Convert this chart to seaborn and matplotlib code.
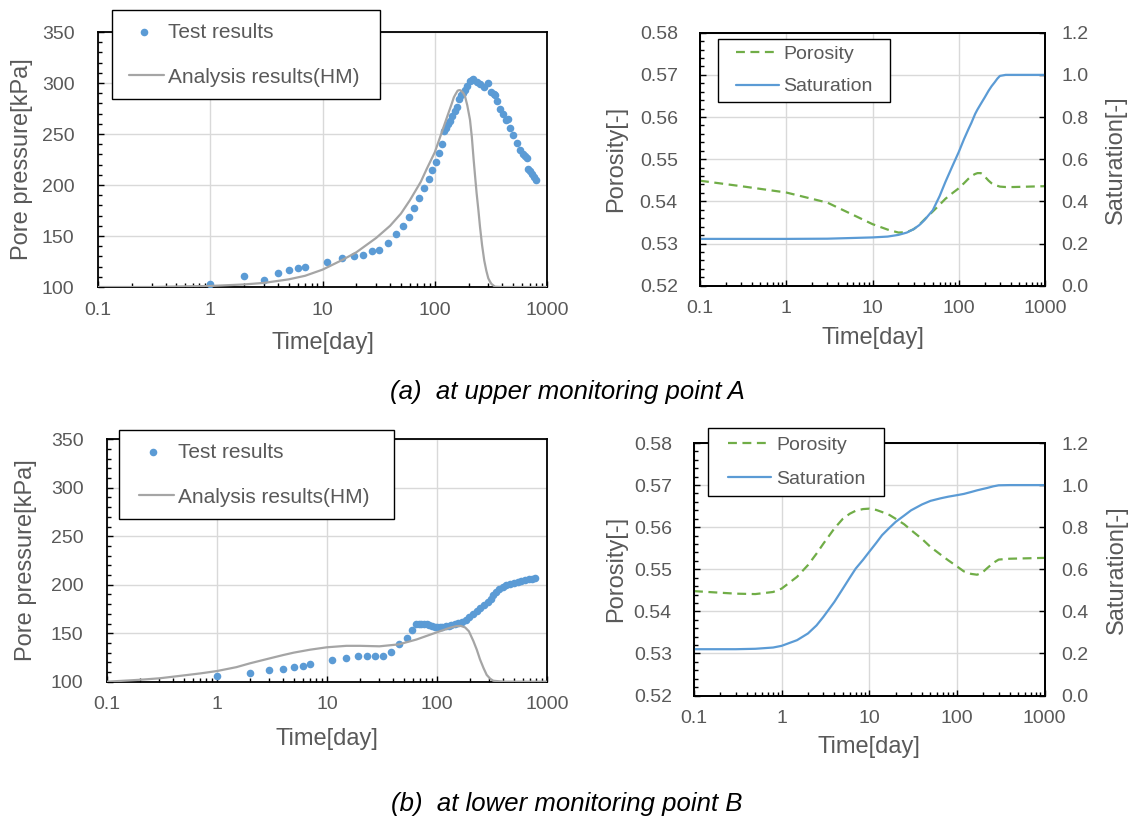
"""Pore pressure / porosity / saturation at monitoring points A and B"""
import matplotlib
matplotlib.use("Agg")
import matplotlib.pyplot as plt
import matplotlib.ticker as mticker
from matplotlib.legend_handler import HandlerLine2D
from matplotlib.lines import Line2D
import seaborn as sns

# ---- (a) upper monitoring point A ----
a_test_t = [1, 2, 3, 4, 5, 6, 7, 11, 15, 19, 23, 27.5, 32, 38.5, 45, 52.5, 59.5,
            66, 73, 81, 88, 94.5, 102, 109, 117, 122, 126, 132, 137, 143, 151, 157,
            166, 172, 178, 186, 195, 206, 214, 221, 236, 253, 277, 300, 320, 335,
            345, 361, 381, 402, 431, 452, 470, 501, 537, 574, 610, 640, 659, 682,
            710, 731, 760, 793]
a_test_p = [103, 110.5, 107, 113.5, 116.5, 118.5, 120, 125, 128.5, 130.5, 131.5, 135,
            136.5, 143, 152, 160, 169, 177, 187, 197, 206, 215, 223, 231, 240, 253,
            256, 260, 263, 268, 273, 276, 284, 288, 290, 293, 297, 302, 303, 303.5,
            301, 299, 296, 300, 291, 289, 288, 282, 275, 270, 264, 265, 256, 249,
            241, 234, 230, 228, 226, 216, 214, 211, 208, 205]
a_hm_t = [0.1, 0.3, 0.5, 1, 2, 3, 5, 7, 10, 15, 20, 30, 40, 50, 60, 75, 85, 100, 110,
          120, 130, 142, 148, 155, 160, 165, 170, 175, 180, 186, 195, 206, 214, 222,
          229, 236, 245, 253, 264, 276, 288, 300, 310, 320, 344, 400, 1000]
a_hm_p = [100, 100, 100.5, 101, 102.5, 104, 107.5, 111, 117, 126.5, 134, 148, 160, 172,
          185, 203, 216, 232, 245, 257, 268, 280, 286, 290, 292.5, 293, 292.8, 291.5,
          290, 287, 278, 264, 247, 225, 208, 192, 175, 159, 141, 126, 116, 108.5,
          105.5, 103, 100.3, 100, 100]

a_t = [0.1, 0.3, 1, 3, 10, 15, 20, 25, 30, 35, 40, 50, 60, 70, 85, 100, 115, 130,
       140, 155, 165, 180, 190, 200, 222, 240, 260, 280, 300, 350, 430, 1000]
a_porosity = [0.5449, 0.5436, 0.5421, 0.5397, 0.5346, 0.5333, 0.5326, 0.5327, 0.5334,
              0.5345, 0.5357, 0.5376, 0.5392, 0.5406, 0.5420, 0.5431, 0.5443, 0.5454,
              0.5460, 0.5465, 0.5467, 0.5467, 0.5464, 0.5459, 0.5449, 0.5443, 0.5439,
              0.5437, 0.5435, 0.5434, 0.5434, 0.5436]
a_saturation = [0.222, 0.222, 0.222, 0.223, 0.229, 0.233, 0.241, 0.252, 0.268, 0.288,
                0.311, 0.358, 0.425, 0.492, 0.570, 0.634, 0.695, 0.744, 0.772, 0.815,
                0.836, 0.862, 0.878, 0.893, 0.925, 0.946, 0.964, 0.982, 0.995, 1.0,
                1.0, 1.0]

# ---- (b) lower monitoring point B ----
b_test_t = [1, 2, 3, 4, 5, 6, 7, 11, 15, 19, 23, 27.5, 32, 38.5, 45, 53, 59, 65, 68,
            72, 76, 81, 85, 90, 95, 100, 106, 112, 120, 128, 134, 145, 156, 168, 182,
            197, 213, 230, 248, 268, 290, 308, 326, 345, 366, 395, 427, 460, 498, 540,
            582, 630, 679, 725, 774]
b_test_p = [105.5, 109, 111.7, 113.4, 114.8, 116.6, 118.6, 122, 124, 126, 126, 127, 127,
            130.5, 138.5, 145, 153, 159, 160, 160, 159.5, 159, 158, 157.2, 156.5, 156.2,
            156.2, 156.6, 157, 157.5, 158, 159, 160.3, 162, 164, 167, 170, 173, 176, 179,
            182, 185.5, 189, 192.5, 196, 198, 199.5, 201, 202, 203, 204, 204.8, 205.5,
            206.3, 207.3]
b_hm_t = [0.1, 0.2, 0.3, 0.5, 0.7, 1, 1.5, 2, 3, 4, 5, 7, 10, 15, 20, 30, 45, 65, 100,
          130, 150, 165, 180, 195, 214, 230, 246, 265, 283, 305, 325, 400, 1000]
b_hm_p = [100, 102, 103.5, 106.5, 108.5, 111, 115, 119, 124, 127.5, 130, 133, 135.5,
          137, 137, 136.5, 138.5, 143.5, 151, 155.5, 157.3, 157.5, 156, 152, 142, 133,
          123, 114, 107, 103, 101, 100, 100]

b_t = [0.1, 0.3, 0.5, 0.8, 1, 1.5, 2, 2.5, 3, 4, 5, 6, 7, 8.5, 10, 12, 14, 17, 20, 25,
       30, 40, 50, 65, 80, 100, 120, 145, 170, 195, 220, 260, 300, 400, 1000]
b_porosity = [0.5448, 0.5442, 0.5441, 0.5446, 0.5454, 0.5482, 0.5510, 0.5537, 0.5561,
              0.5597, 0.5620, 0.5632, 0.5639, 0.5643, 0.5644, 0.5641, 0.5636, 0.5629,
              0.5620, 0.5607, 0.5593, 0.5572, 0.5553, 0.5535, 0.5521, 0.5507, 0.5495,
              0.5489, 0.5487, 0.5492, 0.5502, 0.5515, 0.5523, 0.5525, 0.5527]
b_saturation = [0.220, 0.220, 0.222, 0.228, 0.236, 0.263, 0.295, 0.333, 0.374, 0.445,
                0.508, 0.560, 0.603, 0.645, 0.683, 0.725, 0.762, 0.797, 0.825, 0.855,
                0.880, 0.908, 0.925, 0.937, 0.945, 0.952, 0.958, 0.967, 0.975, 0.981,
                0.986, 0.994, 0.999, 1.0, 1.0]

time_ticks = [0.1, 1, 10, 100, 1000]
time_labels = ["0.1", "1", "10", "100", "1000"]
p_ticks = [100, 150, 200, 250, 300, 350]
por_ticks = [0.52, 0.53, 0.54, 0.55, 0.56, 0.57, 0.58]
sat_ticks = [0.0, 0.2, 0.4, 0.6, 0.8, 1.0, 1.2]

TXT = "#595959"
BLUE = "#5B9BD5"
GREEN = "#70AD47"
GRAY = "#A5A5A5"
GRID = "#D9D9D9"

sns.set_theme(style="white")
plt.rcParams["font.family"] = ["Liberation Sans", "DejaVu Sans"]

W, H = 1133, 816
fig = plt.figure(figsize=(W / 100, H / 100), dpi=100)


class InsetLine(HandlerLine2D):
    """Legend line that starts a bit inside its handle box."""

    def __init__(self, inset, **kw):
        super().__init__(**kw)
        self.inset = inset

    def get_xdata(self, legend, xdescent, ydescent, width, height, fontsize):
        xdata = [-xdescent + self.inset * fontsize, -xdescent + width]
        return xdata, [sum(xdata) / 2]


def px_axes(x0, y0, x1, y1):
    return fig.add_axes([x0 / W, 1 - y1 / H, (x1 - x0) / W, (y1 - y0) / H])


def style_axes(ax, yticks, yminor, yfmt, ypad, ylabel, ylab_x, xlab_y):
    ax.set_xscale("log")
    ax.set_xlim(0.1, 1000)
    ax.xaxis.set_major_locator(mticker.FixedLocator(time_ticks))
    ax.xaxis.set_major_formatter(mticker.FixedFormatter(time_labels))
    ax.xaxis.set_minor_locator(mticker.LogLocator(base=10, subs=range(2, 10)))
    ax.xaxis.set_minor_formatter(mticker.NullFormatter())
    ax.set_ylim(yticks[0], yticks[-1])
    ax.set_yticks(yticks)
    ax.set_yticklabels([yfmt.format(v) for v in yticks])
    ax.yaxis.set_minor_locator(mticker.MultipleLocator(yminor))
    ax.grid(True, which="major", color=GRID, linewidth=1)
    ax.set_axisbelow(True)
    for s in ax.spines.values():
        s.set_color("black")
        s.set_linewidth(1.3)
    ax.tick_params(which="both", direction="in", color="black", width=1,
                   labelcolor=TXT, labelsize=14, left=True, bottom=True,
                   top=False, right=False)
    ax.tick_params(which="major", length=4.5)
    ax.tick_params(which="minor", length=3)
    ax.tick_params(axis="y", pad=ypad)
    ax.tick_params(axis="x", pad=10.5)
    ax.set_xlabel("Time[day]", fontsize=17, color=TXT)
    ax.set_ylabel(ylabel, fontsize=17, color=TXT)
    ax.xaxis.set_label_coords(0.5, xlab_y)
    ax.yaxis.set_label_coords(ylab_x, 0.5)


def add_legend(ax, handles, labels, box, fs, spacing, hl, pad, inset, textpad):
    x0, y0, bw = box
    leg = ax.legend(handles, labels, loc="upper left", mode="expand",
                    bbox_to_anchor=(x0 / W, 1 - y0 / H - 0.01, bw / W, 0.01),
                    bbox_transform=fig.transFigure, borderaxespad=0, frameon=True,
                    fancybox=False, framealpha=1, edgecolor="black", fontsize=fs,
                    labelspacing=spacing, handlelength=hl, handletextpad=textpad,
                    borderpad=pad, labelcolor=TXT, scatterpoints=1,
                    handler_map={Line2D: InsetLine(inset)})
    leg.get_frame().set_linewidth(1.0)
    leg.set_zorder(10)


def pressure_panel(box, test_t, test_p, hm_t, hm_p, leg_box, inset, hl, ylab_x, xlab_y):
    ax = px_axes(*box)
    sns.scatterplot(x=test_t, y=test_p, ax=ax, color=BLUE, s=30, linewidth=0,
                    label="Test results", zorder=3)
    sns.lineplot(x=hm_t, y=hm_p, ax=ax, color=GRAY, linewidth=1.6,
                 label="Analysis results(HM)", zorder=4)
    style_axes(ax, p_ticks, 10, "{:.0f}", 17, "Pore pressure[kPa]", ylab_x, xlab_y)
    h, l = ax.get_legend_handles_labels()
    add_legend(ax, h, l, leg_box, 15, 1.25, hl, 0.6, inset, 0.2)
    return ax


def state_panel(box, t, por, sat, leg_box, spacing, pad, textpad, ylab_x, sat_lab_x,
                xlab_y):
    ax = px_axes(*box)
    sns.lineplot(x=t, y=por, ax=ax, color=GREEN, linewidth=1.6,
                 linestyle=(0, (4, 2.5)), label="Porosity")
    style_axes(ax, por_ticks, 0.002, "{:.2f}", 16, "Porosity[-]", ylab_x, xlab_y)
    ax2 = ax.twinx()
    sns.lineplot(x=t, y=sat, ax=ax2, color=BLUE, linewidth=1.6, label="Saturation")
    ax2.set_ylim(0, 1.2)
    ax2.set_yticks(sat_ticks)
    ax2.set_yticklabels(["{:.1f}".format(v) for v in sat_ticks])
    ax2.yaxis.set_minor_locator(mticker.NullLocator())
    ax2.tick_params(axis="y", direction="in", length=4.5, width=1, color="black",
                    labelcolor=TXT, labelsize=14, pad=12, right=True, left=False)
    ax2.set_ylabel("Saturation[-]", fontsize=17, color=TXT)
    ax2.yaxis.set_label_coords(sat_lab_x, 0.5)
    for s in ax2.spines.values():
        s.set_color("black")
        s.set_linewidth(1.3)
    if ax.get_legend() is not None:
        ax.get_legend().remove()
    h1, l1 = ax.get_legend_handles_labels()
    h2, l2 = ax2.get_legend_handles_labels()
    add_legend(ax2, h1 + h2, l1 + l2, leg_box, 14, spacing, 2.85, pad, 0.63, textpad)
    return ax, ax2


pressure_panel((98, 32, 547, 287), a_test_t, a_test_p, a_hm_t, a_hm_p,
               (111.6, 10, 268.4), 0.23, 1.91, -0.145, -0.178)
state_panel((700, 32.7, 1045, 285.7), a_t, a_porosity, a_saturation,
            (717.6, 39, 172.8), 0.77, 0.32, 0.2, -0.211, 1.174, -0.163)
pressure_panel((107, 439.3, 547, 681.7), b_test_t, b_test_p, b_hm_t, b_hm_p,
               (119, 430, 275.3), 0.38, 2.02, -0.159, -0.19)
state_panel((694, 443, 1044.5, 695.5), b_t, b_porosity, b_saturation,
            (708, 428.3, 176), 0.87, 0.4, 0.27, -0.19, 1.174, -0.16)

fig.text(567 / W, 1 - 392 / H, "(a)  at upper monitoring point A", ha="center",
         va="center", style="italic", fontsize=18.5, color="black")
fig.text(567 / W, 1 - 804 / H, "(b)  at lower monitoring point B", ha="center",
         va="center", style="italic", fontsize=18.5, color="black")

fig.savefig("out.png", dpi=100)
